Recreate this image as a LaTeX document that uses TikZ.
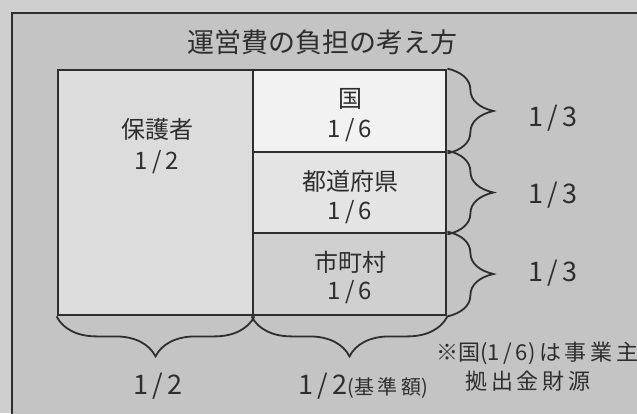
\documentclass[tikz,border=0pt]{standalone}
\usepackage{fontspec}
\setmainfont{Noto Sans CJK JP}
\usetikzlibrary{decorations.pathreplacing}
\definecolor{outerbg}{HTML}{CFCFCF}
\definecolor{innerbg}{HTML}{C4C4C4}
\definecolor{ink}{HTML}{2E2E2E}
\definecolor{fillA}{HTML}{DCDCDC}
\definecolor{fillB}{HTML}{F2F2F2}
\definecolor{fillC}{HTML}{E4E4E4}
\definecolor{fillD}{HTML}{D0D0D0}
\tikzset{
  cell/.style={draw=ink, line width=2.8pt, inner sep=0pt, anchor=center},
  txt/.style={text=ink, inner sep=0pt, font=\fontsize{24}{28}\selectfont},
  big/.style={text=ink, inner sep=0pt, font=\fontsize{27}{31}\selectfont},
  small/.style={text=ink, inner sep=0pt, font=\fontsize{22}{26}\selectfont},
  bracebase/.style={draw=ink, line width=1.8pt, decorate},
  rbrace/.style={bracebase, decoration={brace, amplitude=46pt}},
  bbrace/.style={bracebase, decoration={brace, amplitude=40pt}}
}
\begin{document}
\begin{tikzpicture}[x=1pt,y=-1pt]
\useasboundingbox (0,0) rectangle (637,413);
\fill[outerbg] (0,0) rectangle (637,413);
\draw[ink, line width=1.5pt, fill=innerbg] (12,13) rectangle (680,460);
\node[big] (title) at (322,42) {運営費の負担の考え方};
% boxes
\node[cell, fill=fillA, minimum width=195pt, minimum height=245pt] (hogo) at (155.5,192.5) {};
\node[cell, fill=fillB, minimum width=193pt, minimum height=82pt] (kuni) at (349.5,111) {};
\node[cell, fill=fillC, minimum width=193pt, minimum height=81pt] (todo) at (349.5,192.5) {};
\node[cell, fill=fillD, minimum width=193pt, minimum height=82pt] (shi) at (349.5,274) {};
% box texts
\node[txt] (t1) at (157,129) {保護者};
\node[txt] (t2) at (157,162) {1\,/\,2};
\node[txt] (t3) at (350,99) {国};
\node[txt] (t4) at (350,130) {1\,/\,6};
\node[txt] (t5) at (350,181) {都道府県};
\node[txt] (t6) at (350,212) {1\,/\,6};
\node[txt] (t7) at (350,262) {市町村};
\node[txt] (t8) at (350,292) {1\,/\,6};
% right braces
\draw[rbrace] (kuni.north east) -- (kuni.south east);
\draw[rbrace] (todo.north east) -- (todo.south east);
\draw[rbrace] (shi.north east) -- (shi.south east);
\node[big] (r1) at (553,118) {1\,/\,3};
\node[big] (r2) at (553,195) {1\,/\,3};
\node[big] (r3) at (553,273) {1\,/\,3};
% bottom braces
\draw[bbrace] (hogo.south east) -- (hogo.south west);
\draw[bbrace] (shi.south east) -- (shi.south west);
\node[big] (b1) at (158,386) {1\,/\,2};
\node[big, anchor=west] (b2) at (298,386) {1\,/\,2\fontsize{20}{24}\selectfont(基\,準\,額)};
% note
\node[small, anchor=west] (n1) at (436,353) {※国(1\,/\,6)\,は\,事\,業\,主};
\node[small] (n2) at (528,381) {拠\,出\,金\,財\,源};
\end{tikzpicture}
\end{document}
